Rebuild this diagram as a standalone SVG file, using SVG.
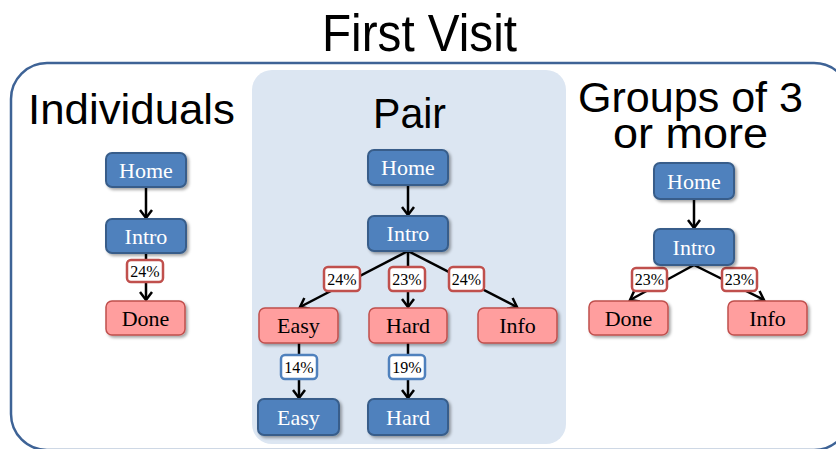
<svg xmlns="http://www.w3.org/2000/svg" width="836" height="449" viewBox="0 0 836 449">
  <style>
    .head { font-family: "Liberation Sans", Arial, sans-serif; fill: #000; }
    .blue rect { fill: #4f81bd; stroke: #385d8a; stroke-width: 2; filter: url(#shadow); }
    .pink rect { fill: #ff9e9e; stroke: #c0504d; stroke-width: 1.5; filter: url(#shadow); }
    .nt { font-family: "Liberation Serif", "DejaVu Serif", serif; font-size: 22px; text-anchor: middle; }
    .blue .nt { fill: #fff; }
    .pink .nt { fill: #000; }
    .lbl rect { fill: #fff; stroke-width: 2.5; }
    .lbl.red rect { stroke: #c0504d; }
    .lbl.blu rect { stroke: #4f81bd; }
    .lt { font-family: "Liberation Serif", "DejaVu Serif", serif; font-size: 16px; text-anchor: middle; fill: #000; }
    .edge { stroke: #000; stroke-width: 2.5; fill: none; marker-end: url(#arrow); }
  </style>
  <defs>
    <filter id="shadow" x="-20%" y="-20%" width="150%" height="160%">
      <feDropShadow dx="2" dy="2" stdDeviation="1.5" flood-color="#000" flood-opacity="0.35"/>
    </filter>
    <marker id="arrow" markerUnits="userSpaceOnUse" viewBox="0 0 14 14" markerWidth="14" markerHeight="14" refX="11" refY="7" orient="auto">
      <path d="M3,1 L11,7 L3,13" fill="none" stroke="#000" stroke-width="2.5"/>
    </marker>
  </defs>

  <rect width="836" height="449" fill="#fff"/>

  <!-- frame and shaded middle panel -->
  <rect x="11" y="63" width="839" height="387" rx="36" fill="none" stroke="#3e6396" stroke-width="2.5"/>
  <rect x="252" y="70" width="314" height="374" rx="20" fill="#dce6f2"/>

  <!-- headings -->
  <text class="head" x="322" y="51" font-size="51" textLength="195" lengthAdjust="spacingAndGlyphs">First Visit</text>
  <text class="head" x="28" y="124" font-size="43" textLength="207" lengthAdjust="spacingAndGlyphs">Individuals</text>
  <text class="head" x="373" y="128" font-size="43" textLength="73" lengthAdjust="spacingAndGlyphs">Pair</text>
  <text class="head" x="578" y="112" font-size="42" textLength="225" lengthAdjust="spacingAndGlyphs">Groups of 3</text>
  <text class="head" x="613" y="148" font-size="42" textLength="155" lengthAdjust="spacingAndGlyphs">or more</text>

  <!-- connectors -->
  <g id="connectors">
    <line class="edge" x1="146" y1="187" x2="146" y2="218"/>
    <line class="edge" x1="146" y1="253" x2="146" y2="300"/>

    <line class="edge" x1="408" y1="185" x2="408" y2="215"/>
    <line class="edge" x1="408" y1="251" x2="300" y2="307"/>
    <line class="edge" x1="408" y1="251" x2="408" y2="307"/>
    <line class="edge" x1="408" y1="251" x2="517" y2="307"/>
    <line class="edge" x1="299" y1="343" x2="299" y2="398"/>
    <line class="edge" x1="408" y1="343" x2="408" y2="398"/>

    <line class="edge" x1="694" y1="199" x2="694" y2="228"/>
    <line class="edge" x1="694" y1="265" x2="630" y2="300"/>
    <line class="edge" x1="694" y1="265" x2="764" y2="300"/>

    <!-- edge labels -->
    <g class="lbl red"><rect x="127" y="260" width="36" height="22" rx="4"/><text class="lt" x="145" y="277">24%</text></g>
    <g class="lbl red"><rect x="324" y="267" width="36" height="24" rx="4"/><text class="lt" x="342" y="285">24%</text></g>
    <g class="lbl red"><rect x="389" y="267" width="36" height="24" rx="4"/><text class="lt" x="407" y="285">23%</text></g>
    <g class="lbl red"><rect x="449" y="267" width="35" height="24" rx="4"/><text class="lt" x="466.5" y="285">24%</text></g>
    <g class="lbl blu"><rect x="281" y="355" width="36" height="24" rx="4"/><text class="lt" x="299" y="373">14%</text></g>
    <g class="lbl blu"><rect x="389" y="355" width="36" height="24" rx="4"/><text class="lt" x="407" y="373">19%</text></g>
    <g class="lbl red"><rect x="632" y="268" width="35" height="23" rx="4"/><text class="lt" x="649.5" y="285">23%</text></g>
    <g class="lbl red"><rect x="722" y="268" width="35" height="23" rx="4"/><text class="lt" x="739.5" y="285">23%</text></g>
  </g>

  <!-- individuals -->
  <g id="ind-home" class="blue"><rect x="106" y="153" width="80" height="34" rx="6"/><text class="nt" x="146" y="177.5">Home</text></g>
  <g id="ind-intro" class="blue"><rect x="106" y="219" width="80" height="34" rx="6"/><text class="nt" x="146" y="243.5">Intro</text></g>
  <g id="ind-done" class="pink"><rect x="106" y="301" width="79" height="34" rx="6"/><text class="nt" x="145.5" y="325.5">Done</text></g>

  <!-- pair -->
  <g id="pair-home" class="blue"><rect x="368" y="150" width="80" height="35" rx="6"/><text class="nt" x="408" y="175">Home</text></g>
  <g id="pair-intro" class="blue"><rect x="368" y="216" width="80" height="35" rx="6"/><text class="nt" x="408" y="241">Intro</text></g>
  <g id="pair-easy" class="pink"><rect x="259" y="308" width="79" height="35" rx="6"/><text class="nt" x="298.5" y="333">Easy</text></g>
  <g id="pair-hard" class="pink"><rect x="369" y="308" width="78" height="35" rx="6"/><text class="nt" x="408" y="333">Hard</text></g>
  <g id="pair-info" class="pink"><rect x="478" y="308" width="79" height="35" rx="6"/><text class="nt" x="517.5" y="333">Info</text></g>
  <g id="pair-easy2" class="blue"><rect x="258" y="399" width="81" height="36" rx="6"/><text class="nt" x="298.5" y="424.5">Easy</text></g>
  <g id="pair-hard2" class="blue"><rect x="368" y="399" width="80" height="36" rx="6"/><text class="nt" x="408" y="424.5">Hard</text></g>

  <!-- groups of 3 or more -->
  <g id="grp-home" class="blue"><rect x="654" y="163" width="80" height="36" rx="6"/><text class="nt" x="694" y="188.5">Home</text></g>
  <g id="grp-intro" class="blue"><rect x="654" y="229" width="80" height="36" rx="6"/><text class="nt" x="694" y="254.5">Intro</text></g>
  <g id="grp-done" class="pink"><rect x="589" y="301" width="79" height="34" rx="6"/><text class="nt" x="628.5" y="325.5">Done</text></g>
  <g id="grp-info" class="pink"><rect x="728" y="301" width="79" height="34" rx="6"/><text class="nt" x="767.5" y="325.5">Info</text></g>
</svg>
